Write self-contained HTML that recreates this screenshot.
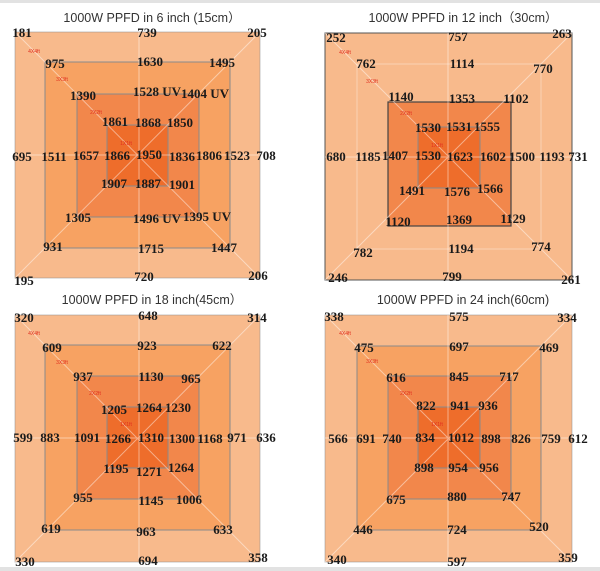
<!DOCTYPE html>
<html><head><meta charset="utf-8"><style>
html,body{margin:0;padding:0;background:#fff}
svg{display:block}
.n{font-family:"Liberation Serif",serif;font-size:13px;fill:#1a1a1a;text-anchor:middle;font-weight:bold}
.t{font-family:"Liberation Sans","Noto Sans CJK SC",sans-serif;font-size:12.5px;fill:#333;text-anchor:middle}
.r{font-family:"Liberation Sans",sans-serif;font-size:5px;fill:#e03020;text-anchor:middle}
.ln{stroke:#fff;stroke-opacity:.45;stroke-width:1;fill:none}
.b{stroke:#8a8a8a;stroke-width:1}
</style></head><body>
<svg width="600" height="571" viewBox="0 0 600 571" xmlns="http://www.w3.org/2000/svg">
<rect x="0" y="0" width="600" height="3" fill="#e2e2e2"/>
<rect x="0" y="567" width="600" height="4" fill="#e2e2e2"/>

<!-- Panel 1 -->
<text class="t" x="152" y="22">1000W  PPFD in 6 inch (15cm）</text>
<rect x="15" y="32" width="245" height="246" fill="#f8ba8c" class="b" stroke-opacity=".5"/>
<rect x="45" y="62" width="185" height="186" fill="#f7a262" class="b"/>
<rect x="77" y="94" width="122" height="123" fill="#f2874b" class="b"/>
<rect x="107" y="125" width="61" height="61" fill="#ee6d2b" class="b"/>
<path class="ln" d="M15 32L260 278M260 32L15 278M139 32V278M15 155H260"/>
<g class="r"><text x="34" y="53">4X4ft</text><text x="62" y="81">3X3ft</text><text x="96" y="114">2X2ft</text><text x="126" y="145">1X1ft</text></g>
<g class="n">
<text x="22" y="37">181</text><text x="147" y="37">739</text><text x="257" y="37">205</text>
<text x="55" y="68">975</text><text x="150" y="66">1630</text><text x="222" y="67">1495</text>
<text x="83" y="100">1390</text><text x="157" y="96">1528 UV</text><text x="205" y="98">1404 UV</text>
<text x="115" y="126">1861</text><text x="148" y="127">1868</text><text x="180" y="127">1850</text>
<text x="22" y="161">695</text><text x="54" y="161">1511</text><text x="86" y="160">1657</text><text x="117" y="160">1866</text><text x="149" y="159">1950</text><text x="182" y="161">1836</text><text x="209" y="160">1806</text><text x="237" y="160">1523</text><text x="266" y="160">708</text>
<text x="114" y="188">1907</text><text x="148" y="188">1887</text><text x="182" y="189">1901</text>
<text x="78" y="222">1305</text><text x="157" y="223">1496 UV</text><text x="207" y="221">1395 UV</text>
<text x="53" y="251">931</text><text x="151" y="253">1715</text><text x="224" y="252">1447</text>
<text x="24" y="285">195</text><text x="144" y="281">720</text><text x="258" y="280">206</text>
</g>

<!-- Panel 2 -->
<text class="t" x="463" y="22">1000W  PPFD in 12 inch（30cm）</text>
<rect x="325" y="33" width="247" height="247" fill="#f8ba8c" stroke="#555" stroke-width="1"/>
<rect x="357" y="64" width="184" height="185" fill="none" stroke="#fff" stroke-opacity=".35"/>
<rect x="388" y="102" width="123" height="124" fill="#f2874b" stroke="#444" stroke-width="1.2"/>
<rect x="418" y="127" width="62" height="61" fill="#ee6d2b" class="b"/>
<path class="ln" d="M325 33L572 280M572 33L325 280M448 33V280M325 157H572"/>
<g class="r"><text x="345" y="54">4X4ft</text><text x="372" y="83">3X3ft</text><text x="406" y="115">2X2ft</text><text x="437" y="147">1X1ft</text></g>
<g class="n">
<text x="336" y="42">252</text><text x="458" y="41">757</text><text x="562" y="38">263</text>
<text x="366" y="68">762</text><text x="462" y="68">1114</text><text x="543" y="73">770</text>
<text x="401" y="101">1140</text><text x="462" y="103">1353</text><text x="516" y="103">1102</text>
<text x="428" y="132">1530</text><text x="459" y="131">1531</text><text x="487" y="131">1555</text>
<text x="336" y="161">680</text><text x="368" y="161">1185</text><text x="395" y="160">1407</text><text x="428" y="160">1530</text><text x="460" y="161">1623</text><text x="493" y="161">1602</text><text x="522" y="161">1500</text><text x="552" y="161">1193</text><text x="578" y="161">731</text>
<text x="412" y="195">1491</text><text x="457" y="196">1576</text><text x="490" y="193">1566</text>
<text x="398" y="226">1120</text><text x="459" y="224">1369</text><text x="513" y="223">1129</text>
<text x="363" y="257">782</text><text x="461" y="253">1194</text><text x="541" y="251">774</text>
<text x="338" y="282">246</text><text x="452" y="281">799</text><text x="571" y="284">261</text>
</g>

<!-- Panel 3 -->
<text class="t" x="152" y="304">1000W  PPFD in 18 inch(45cm）</text>
<rect x="15" y="315" width="245" height="247" fill="#f8ba8c" class="b" stroke-opacity=".5"/>
<rect x="45" y="345" width="185" height="185" fill="#f7a262" class="b"/>
<rect x="77" y="376" width="122" height="123" fill="#f2874b" class="b"/>
<rect x="107" y="407" width="61" height="61" fill="#ee6d2b" class="b"/>
<path class="ln" d="M15 315L260 562M260 315L15 562M139 315V562M15 438H260"/>
<g class="r"><text x="34" y="335">4X4ft</text><text x="62" y="364">3X3ft</text><text x="95" y="395">2X2ft</text><text x="126" y="426">1X1ft</text></g>
<g class="n">
<text x="24" y="322">320</text><text x="148" y="320">648</text><text x="257" y="322">314</text>
<text x="52" y="352">609</text><text x="147" y="350">923</text><text x="222" y="350">622</text>
<text x="83" y="381">937</text><text x="151" y="381">1130</text><text x="191" y="383">965</text>
<text x="114" y="414">1205</text><text x="149" y="412">1264</text><text x="178" y="412">1230</text>
<text x="23" y="442">599</text><text x="50" y="442">883</text><text x="87" y="442">1091</text><text x="118" y="443">1266</text><text x="151" y="442">1310</text><text x="182" y="443">1300</text><text x="210" y="443">1168</text><text x="237" y="442">971</text><text x="266" y="442">636</text>
<text x="116" y="473">1195</text><text x="149" y="476">1271</text><text x="181" y="472">1264</text>
<text x="83" y="502">955</text><text x="151" y="505">1145</text><text x="189" y="504">1006</text>
<text x="51" y="533">619</text><text x="146" y="536">963</text><text x="223" y="534">633</text>
<text x="25" y="566">330</text><text x="148" y="565">694</text><text x="258" y="562">358</text>
</g>

<!-- Panel 4 -->
<text class="t" x="463" y="304">1000W  PPFD in 24 inch(60cm)</text>
<rect x="325" y="315" width="247" height="247" fill="#f8ba8c" class="b" stroke-opacity=".5"/>
<rect x="357" y="346" width="184" height="184" fill="#f7a262" class="b"/>
<rect x="388" y="376" width="123" height="123" fill="#f2874b" class="b"/>
<rect x="418" y="407" width="62" height="61" fill="#ee6d2b" class="b"/>
<path class="ln" d="M325 315L572 562M572 315L325 562M448 315V562M325 438H572"/>
<g class="r"><text x="345" y="335">4X4ft</text><text x="372" y="363">3X3ft</text><text x="406" y="395">2X2ft</text><text x="437" y="426">1X1ft</text></g>
<g class="n">
<text x="334" y="321">338</text><text x="459" y="321">575</text><text x="567" y="322">334</text>
<text x="364" y="352">475</text><text x="459" y="351">697</text><text x="549" y="352">469</text>
<text x="396" y="382">616</text><text x="459" y="381">845</text><text x="509" y="381">717</text>
<text x="426" y="410">822</text><text x="460" y="410">941</text><text x="488" y="410">936</text>
<text x="338" y="443">566</text><text x="366" y="443">691</text><text x="392" y="443">740</text><text x="425" y="442">834</text><text x="461" y="442">1012</text><text x="491" y="443">898</text><text x="521" y="443">826</text><text x="551" y="443">759</text><text x="578" y="443">612</text>
<text x="424" y="472">898</text><text x="458" y="472">954</text><text x="489" y="472">956</text>
<text x="396" y="504">675</text><text x="457" y="501">880</text><text x="511" y="501">747</text>
<text x="363" y="534">446</text><text x="457" y="534">724</text><text x="539" y="531">520</text>
<text x="337" y="564">340</text><text x="457" y="566">597</text><text x="568" y="562">359</text>
</g>
</svg>
</body></html>
